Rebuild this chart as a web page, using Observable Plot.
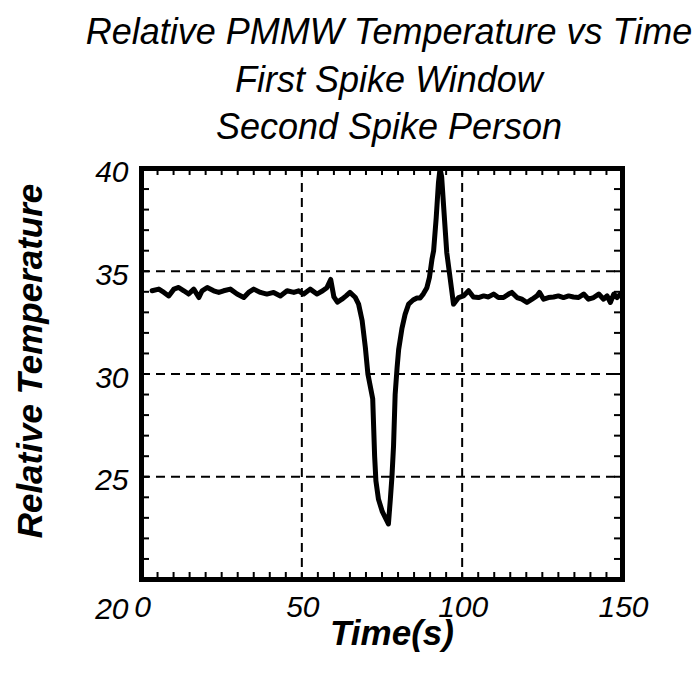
<!DOCTYPE html>
<html>
<head>
<meta charset="utf-8">
<script src="https://cdn.jsdelivr.net/npm/d3@7"></script>
<script src="https://cdn.jsdelivr.net/npm/@observablehq/plot@0.6"></script>
<style>
  html, body { margin: 0; padding: 0; background: white; }
  #title {
    width: 698px; height: 150px; box-sizing: border-box;
    padding-top: 8px; padding-left: 80px;
    text-align: center;
    font-family: "Liberation Sans", Arial, sans-serif;
    font-style: italic; font-size: 36px; line-height: 47.5px; color: black;
  }
  #chart svg { display: block; }
</style>
</head>
<body>
<div id="title">
  <div>Relative PMMW Temperature vs Time</div>
  <div>First Spike Window</div>
  <div>Second Spike Person</div>
</div>
<div id="chart"></div>
<script>
// Time (s)
const time = [
  3.3, 5.4, 7.0, 8.5, 10.1, 11.6, 13.2, 14.7, 16.3, 17.9, 18.9, 20.5, 22.5, 24.1, 25.6, 27.7,
  29.8, 31.9, 33.4, 35.0, 37.1, 39.1, 41.2, 43.3, 45.4, 47.5, 49.0, 50.6, 52.6, 54.7, 56.5, 57.8,
  59.0, 60.0, 61.1, 62.5, 63.8, 65.0, 66.7, 67.7, 68.8, 69.8, 70.6, 72.1, 72.7, 73.1, 73.9, 75.1,
  77.0, 77.6, 78.1, 78.6, 79.1, 79.7, 80.2, 81.2, 82.2, 83.3, 84.7, 85.9, 86.9, 87.9, 89.0, 89.8,
  90.6, 91.1, 91.9, 92.6, 93.1, 93.6, 94.2, 95.2, 96.3, 97.3, 98.9, 100.4, 102.0, 103.5, 105.1, 106.7,
  108.2, 109.8, 111.3, 112.9, 114.5, 115.5, 117.1, 118.6, 120.2, 121.8, 123.3, 124.1, 125.4, 126.9, 128.5, 130.0,
  131.6, 133.2, 134.7, 136.3, 137.9, 139.4, 141.0, 142.6, 144.1, 145.2, 146.2, 147.3, 148.3, 149.4
];
// Relative temperature
const temp = [
  34.05, 34.13, 33.97, 33.80, 34.13, 34.21, 34.05, 33.89, 34.13, 33.72, 34.05, 34.21, 34.05, 33.97, 34.05, 34.13,
  33.89, 33.72, 33.97, 34.13, 33.97, 33.89, 33.97, 33.80, 34.05, 33.97, 34.05, 33.89, 34.13, 33.89, 34.05, 34.20,
  34.60, 33.75, 33.50, 33.64, 33.80, 33.97, 33.72, 33.40, 32.60, 31.30, 30.00, 28.80, 26.00, 24.80, 23.90, 23.30,
  22.70, 23.90, 25.00, 26.50, 29.00, 30.30, 31.20, 32.20, 32.90, 33.40, 33.60, 33.70, 33.70, 33.90, 34.20, 34.70,
  35.60, 36.00, 37.60, 39.30, 40.00, 39.60, 38.20, 35.90, 34.60, 33.40, 33.72, 33.80, 34.05, 33.75, 33.72, 33.80,
  33.75, 33.89, 33.72, 33.72, 33.89, 33.97, 33.72, 33.64, 33.48, 33.64, 33.80, 33.97, 33.64, 33.72, 33.75, 33.80,
  33.72, 33.80, 33.75, 33.72, 33.89, 33.64, 33.72, 33.89, 33.64, 33.80, 33.48, 33.89, 33.72, 33.89
];
const xTickLabels = [0, 50, 100, 150];
const yTickLabels = [40, 35, 30, 25];
const yCornerLabel = [20];
const xGrid = [50, 100];
const yGrid = [25, 30, 35];
const xMinor = d3.range(0, 151, 5);
const yMinor = d3.range(20, 41, 1);

const data = time.map((t, i) => ({t, v: temp[i]}));

const W = 698, H = 529, mT = 18, mB = 100, mL = 141, mR = 76;
const PW = W - mL - mR, PH = H - mT - mB;
const font = "Liberation Sans, Arial, sans-serif";

const chart = Plot.plot({
  width: W, height: H,
  marginTop: mT, marginBottom: mB, marginLeft: mL, marginRight: mR,
  x: {domain: [0, 150], axis: null},
  y: {domain: [20, 40], axis: null},
  style: {background: "white", fontFamily: font, color: "black", overflow: "visible"},
  marks: [
    Plot.ruleX(xGrid, {x: d => d, stroke: "black", strokeWidth: 2, strokeDasharray: "9,6"}),
    Plot.ruleY(yGrid, {y: d => d, stroke: "black", strokeWidth: 2, strokeDasharray: "9,6"}),
    Plot.tickX(xMinor, {x: d => d, insetTop: PH - 7, stroke: "black", strokeWidth: 2}),
    Plot.tickX(xMinor, {x: d => d, insetBottom: PH - 7, stroke: "black", strokeWidth: 2}),
    Plot.tickY(yMinor, {y: d => d, insetRight: PW - 8, stroke: "black", strokeWidth: 2}),
    Plot.tickY(yMinor, {y: d => d, insetLeft: PW - 8, stroke: "black", strokeWidth: 2}),
    Plot.line(data, {x: "t", y: "v", stroke: "black", strokeWidth: 5, strokeLinejoin: "round", strokeLinecap: "round"}),
    Plot.frame({stroke: "black", strokeWidth: 5}),
    Plot.text(xTickLabels, {x: d => d, text: d => String(d), frameAnchor: "bottom", lineAnchor: "top", dy: 16, dx: 1,
      fontSize: 30, fontStyle: "italic", fill: "black"}),
    Plot.text(yTickLabels, {y: d => d, text: d => String(d), frameAnchor: "left", textAnchor: "end", dx: -13, dy: 4,
      fontSize: 30, fontStyle: "italic", fill: "black"}),
    Plot.text(yCornerLabel, {y: d => d, text: d => String(d), frameAnchor: "left", textAnchor: "end", dx: -13, dy: 30,
      fontSize: 30, fontStyle: "italic", fill: "black"}),
    Plot.text(["Time(s)"], {text: d => d, frameAnchor: "bottom", lineAnchor: "top", dx: 10, dy: 41,
      fontSize: 35, fontStyle: "italic", fontWeight: "bold", fill: "black"}),
    Plot.text(["Relative Temperature"], {text: d => d, frameAnchor: "left", textAnchor: "middle", lineAnchor: "middle",
      rotate: -90, dx: -111, dy: -13,
      fontSize: 35, fontStyle: "italic", fontWeight: "bold", fill: "black"})
  ]
});
document.getElementById("chart").appendChild(chart);
</script>
</body>
</html>
